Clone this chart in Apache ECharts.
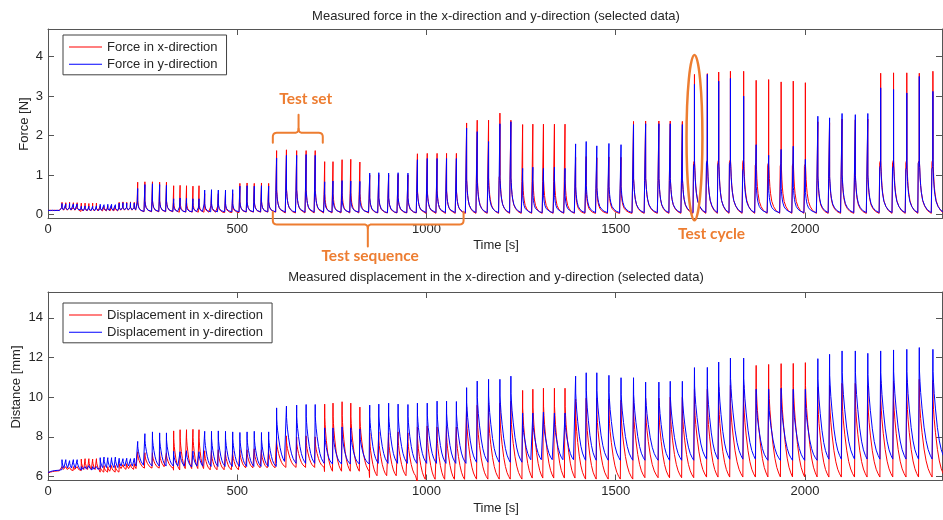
<!DOCTYPE html>
<html>
<head>
<meta charset="utf-8">
<script src="https://cdn.jsdelivr.net/npm/echarts@6/dist/echarts.min.js"></script>
<style>
  html, body { margin: 0; padding: 0; background: #fff; }
  #chart { width: 943px; height: 520px; }
</style>
</head>
<body>
<div id="chart"></div>
<script>
// ---- Measurement data -------------------------------------------------------
// Time [s] of every load peak (20 sets of 5 cycles).
const SPIKE_T = [
  37, 47, 57, 67, 77, 88, 98, 108, 118, 128, 138, 148, 158, 168, 178, 188, 198, 208, 218, 228,
  237, 256, 276, 295, 313, 332, 349, 366, 383, 399, 414, 432, 450, 469, 488, 507, 526, 545, 564, 583,
  604, 630, 657, 682, 706, 731, 753, 777, 800, 824, 850, 874, 900, 925, 951, 976, 1002, 1028, 1053, 1079,
  1106, 1134, 1164, 1194, 1223, 1254, 1281, 1309, 1338, 1366, 1394, 1422, 1450, 1482, 1514, 1547, 1579, 1614, 1644, 1676,
  1708, 1742, 1772, 1803, 1838, 1871, 1904, 1937, 1969, 2001, 2034, 2065, 2098, 2133, 2166, 2200, 2234, 2269, 2302, 2338
];

// Peak force [N] per cycle.
const FORCE_X_PEAK = [
  0.31, 0.30, 0.31, 0.30, 0.30, 0.29, 0.29, 0.28, 0.29, 0.29, 0.22, 0.21, 0.22, 0.22, 0.21, 0.31, 0.32, 0.31, 0.32, 0.31,
  0.82, 0.83, 0.83, 0.82, 0.82, 0.73, 0.74, 0.73, 0.72, 0.73, 0.53, 0.54, 0.53, 0.52, 0.53, 0.79, 0.80, 0.79, 0.80, 0.79,
  1.62, 1.64, 1.62, 1.62, 1.62, 1.34, 1.34, 1.39, 1.40, 1.33, 1.00, 1.01, 1.00, 1.02, 1.00, 1.54, 1.55, 1.55, 1.55, 1.55,
  2.32, 2.39, 2.39, 2.57, 2.39, 2.28, 2.29, 2.29, 2.29, 2.29, 1.45, 1.47, 1.44, 1.46, 1.45, 2.36, 2.37, 2.37, 2.37, 2.36,
  3.55, 3.57, 3.61, 3.63, 3.63, 3.40, 3.42, 3.36, 3.38, 3.34, 2.35, 2.33, 2.42, 2.40, 2.42, 3.58, 3.59, 3.59, 3.58, 3.63
];
const FORCE_Y_PEAK = [
  0.28, 0.27, 0.28, 0.27, 0.27, 0.21, 0.22, 0.21, 0.21, 0.22, 0.26, 0.25, 0.26, 0.26, 0.25, 0.29, 0.30, 0.29, 0.30, 0.29,
  0.66, 0.76, 0.78, 0.76, 0.74, 0.40, 0.42, 0.41, 0.40, 0.40, 0.62, 0.63, 0.62, 0.62, 0.63, 0.72, 0.73, 0.72, 0.73, 0.72,
  1.43, 1.50, 1.50, 1.52, 1.50, 0.83, 0.85, 0.86, 0.85, 0.84, 1.05, 1.06, 1.05, 1.06, 1.05, 1.39, 1.42, 1.42, 1.42, 1.42,
  2.19, 2.10, 1.85, 2.30, 2.35, 1.17, 1.20, 1.17, 1.20, 1.17, 1.79, 1.85, 1.74, 1.80, 1.77, 2.28, 2.30, 2.30, 2.30, 2.28,
  3.30, 3.55, 3.38, 3.45, 3.00, 1.77, 1.50, 1.65, 1.73, 1.40, 2.49, 2.45, 2.56, 2.53, 2.56, 3.21, 3.17, 3.08, 3.50, 3.12
];

// Peak displacement [mm] per cycle.
const DISP_X_PEAK = [
  6.50, 6.50, 6.45, 6.50, 6.50, 6.88, 6.90, 6.90, 6.88, 6.90, 6.55, 6.55, 6.50, 6.55, 6.55, 6.65, 6.60, 6.65, 6.60, 6.65,
  7.25, 7.20, 7.20, 7.25, 7.20, 8.30, 8.36, 8.36, 8.38, 8.36, 7.30, 7.30, 7.35, 7.30, 7.30, 7.35, 7.35, 7.40, 7.35, 7.35,
  8.00, 8.05, 8.00, 8.05, 8.00, 9.65, 9.70, 9.77, 9.70, 9.50, 8.20, 8.25, 8.20, 8.25, 8.20, 8.50, 8.55, 8.50, 8.55, 8.50,
  9.50, 9.60, 9.70, 9.70, 9.80, 10.34, 10.40, 10.45, 10.45, 10.45, 9.90, 9.95, 9.95, 9.90, 9.85, 10.00, 9.95, 9.95, 10.00, 10.00,
  10.40, 10.40, 10.50, 10.60, 10.60, 11.60, 11.65, 11.69, 11.70, 11.74, 10.50, 10.60, 10.70, 10.70, 10.60, 10.80, 10.80, 10.85, 10.90, 10.85
];
const DISP_Y_PEAK = [
  6.85, 6.85, 6.80, 6.85, 6.85, 6.50, 6.50, 6.55, 6.50, 6.50, 6.95, 6.98, 6.95, 6.95, 6.98, 6.92, 6.90, 6.92, 6.90, 6.92,
  7.77, 8.16, 8.25, 8.20, 8.20, 7.27, 7.25, 7.30, 7.28, 7.25, 8.28, 8.28, 8.30, 8.28, 8.25, 8.22, 8.25, 8.28, 8.22, 8.25,
  9.46, 9.55, 9.60, 9.63, 9.63, 8.45, 8.45, 8.50, 8.45, 8.40, 9.60, 9.65, 9.70, 9.65, 9.63, 9.70, 9.70, 9.80, 9.80, 9.78,
  10.48, 10.81, 10.90, 10.90, 11.06, 9.20, 9.20, 9.25, 9.20, 9.20, 11.06, 11.23, 11.23, 11.10, 10.98, 10.98, 10.76, 10.76, 10.80, 10.80,
  11.49, 11.50, 11.77, 11.97, 11.97, 10.40, 10.40, 10.45, 10.40, 10.40, 11.94, 12.16, 12.33, 12.33, 12.21, 12.33, 12.38, 12.41, 12.50, 12.41
];

// Resting level between cycles, one value per set.
const FORCE_X_LOW = [0.10, 0.08, 0.09, 0.10, 0.07, 0.06, 0.05, 0.06, 0.04, 0.04, 0.04, 0.03, 0.03, 0.03, 0.03, 0.03, 0.03, 0.03, 0.03, 0.03];
const FORCE_Y_LOW = [0.11, 0.10, 0.10, 0.11, 0.08, 0.07, 0.07, 0.07, 0.06, 0.06, 0.05, 0.05, 0.05, 0.05, 0.05, 0.05, 0.05, 0.05, 0.05, 0.05];
const DISP_X_LOW = [6.30, 6.30, 6.22, 6.35, 6.42, 6.32, 6.30, 6.40, 6.45, 6.25, 5.95, 5.75, 5.85, 5.90, 5.85, 5.92, 5.95, 5.95, 5.95, 5.95];
const DISP_Y_LOW = [6.35, 6.32, 6.40, 6.45, 6.52, 6.45, 6.50, 6.50, 6.65, 6.62, 6.65, 6.65, 6.70, 6.75, 6.80, 6.80, 6.85, 6.80, 6.85, 6.85];

// Settling phase before the first cycle.
const LEAD_T = [0, 6, 12, 18, 24, 30, 35];
const LEAD_FORCE_X = [0.10, 0.11, 0.10, 0.11, 0.10, 0.11, 0.10];
const LEAD_FORCE_Y = [0.11, 0.10, 0.11, 0.10, 0.11, 0.10, 0.11];
const LEAD_DISP_X = [6.17, 6.22, 6.25, 6.27, 6.28, 6.29, 6.30];
const LEAD_DISP_Y = [6.20, 6.25, 6.28, 6.30, 6.31, 6.32, 6.33];

// Course of one cycle: [offset as share of the cycle period, share of the way from rest to peak].
const FORCE_SHAPE = [
  [-0.08, 0], [-0.075, 0.36], [-0.005, 0.38], [0, 1], [0.005, 0.38], [0.03, 0.33], [0.06, 0.26],
  [0.10, 0.20], [0.15, 0.15], [0.25, 0.09], [0.40, 0.05], [0.60, 0.02], [0.88, 0]
];
const DISP_SHAPE = [
  [-0.02, 0], [0, 1], [0.01, 0.80], [0.05, 0.70], [0.10, 0.60], [0.20, 0.46], [0.35, 0.29],
  [0.50, 0.17], [0.65, 0.09], [0.80, 0.04], [0.94, 0.005]
];

const CYCLES_PER_SET = 5;
const LAST_PERIOD = 34;

const X_TICKS = [0, 500, 1000, 1500, 2000];
const FORCE_TICKS = [0, 1, 2, 3, 4];
const DISP_TICKS = [6, 8, 10, 12, 14];

const TITLE_FORCE = 'Measured force in the x-direction and y-direction (selected data)';
const TITLE_DISP = 'Measured displacement in the x-direction and y-direction (selected data)';
const NAMES = ['Force in x-direction', 'Force in y-direction', 'Displacement in x-direction', 'Displacement in y-direction'];

// ---- Build the traces ---------------------------------------------------------
function trace(leadV, peaks, lows, shape) {
  const pts = LEAD_T.map((t, i) => [t, leadV[i]]);
  SPIKE_T.forEach((t0, i) => {
    const next = i + 1 < SPIKE_T.length ? SPIKE_T[i + 1] : t0 + LAST_PERIOD;
    const period = next - t0;
    const low = lows[Math.floor(i / CYCLES_PER_SET)];
    const span = peaks[i] - low;
    shape.forEach(([f, k]) => pts.push([t0 + f * period, low + k * span]));
  });
  return pts;
}

const FONT = '"Liberation Sans", Arial, sans-serif';
const INK = '#262626';
const FRAME = '#555555';
const RED = '#ff0000';
const BLUE = '#0000ff';
const ORANGE = '#ED7D31';

const chart = echarts.init(document.getElementById('chart'));

function xAxis(gridIndex, position, labels) {
  return {
    type: 'value', gridIndex, position, min: 0, max: 2362,
    axisLine: { show: true, onZero: false, lineStyle: { color: FRAME, width: 1 } },
    axisTick: { show: true, inside: true, length: 6, customValues: X_TICKS, lineStyle: { color: FRAME } },
    axisLabel: {
      show: labels, customValues: X_TICKS, formatter: v => String(v), margin: 4,
      fontSize: 13, fontFamily: FONT, color: INK
    },
    splitLine: { show: false }
  };
}
function yAxis(gridIndex, position, labels, min, max, ticks) {
  return {
    type: 'value', gridIndex, position, min, max,
    axisLine: { show: true, onZero: false, lineStyle: { color: FRAME, width: 1 } },
    axisTick: { show: true, inside: true, length: 6, customValues: ticks, lineStyle: { color: FRAME } },
    axisLabel: {
      show: labels, customValues: ticks, formatter: v => String(v), margin: 5,
      fontSize: 13, fontFamily: FONT, color: INK
    },
    splitLine: { show: false }
  };
}
function line(name, xi, yi, color, data) {
  return {
    name, type: 'line', xAxisIndex: xi, yAxisIndex: yi, data,
    symbol: 'none', showSymbol: false, clip: true,
    lineStyle: { color, width: 1 }, itemStyle: { color },
    emphasis: { disabled: true }
  };
}
function legend(entries, top) {
  return {
    data: entries.map(([name, color]) => ({ name, itemStyle: { color } })),
    orient: 'vertical', left: 63, top,
    icon: 'rect', itemWidth: 33, itemHeight: 1, itemGap: 4.3,
    padding: [5.5, 9, 4, 6],
    borderColor: '#404040', borderWidth: 1, borderRadius: 0, backgroundColor: '#fff',
    selectedMode: false,
    textStyle: { fontSize: 13, fontFamily: FONT, color: INK }
  };
}

chart.setOption({
  animation: false,
  textStyle: { fontFamily: FONT },
  grid: [
    { left: 48, top: 29, width: 894, height: 189.5 },
    { left: 48, top: 292, width: 894, height: 188.5 }
  ],
  xAxis: [
    xAxis(0, 'bottom', true), xAxis(0, 'top', false),
    xAxis(1, 'bottom', true), xAxis(1, 'top', false)
  ],
  yAxis: [
    yAxis(0, 'left', true, -0.1, 4.7, FORCE_TICKS), yAxis(0, 'right', false, -0.1, 4.7, FORCE_TICKS),
    yAxis(1, 'left', true, 5.8, 15.3, DISP_TICKS), yAxis(1, 'right', false, 5.8, 15.3, DISP_TICKS)
  ],
  legend: [
    legend([[NAMES[0], RED], [NAMES[1], BLUE]], 35),
    legend([[NAMES[2], RED], [NAMES[3], BLUE]], 303)
  ],
  series: [
    line(NAMES[0], 0, 0, RED, trace(LEAD_FORCE_X, FORCE_X_PEAK, FORCE_X_LOW, FORCE_SHAPE)),
    line(NAMES[1], 0, 0, BLUE, trace(LEAD_FORCE_Y, FORCE_Y_PEAK, FORCE_Y_LOW, FORCE_SHAPE)),
    line(NAMES[2], 2, 2, RED, trace(LEAD_DISP_X, DISP_X_PEAK, DISP_X_LOW, DISP_SHAPE)),
    line(NAMES[3], 2, 2, BLUE, trace(LEAD_DISP_Y, DISP_Y_PEAK, DISP_Y_LOW, DISP_SHAPE))
  ]
});

// ---- Titles, axis names and the test annotations -----------------------------
const toPx = (t, v) => chart.convertToPixel({ xAxisIndex: 0, yAxisIndex: 0 }, [t, v]);

function text(str, x, y, size, opts) {
  return Object.assign({
    type: 'text', x, y, z: 100,
    style: {
      text: str, fontSize: size, fontFamily: FONT, fill: INK,
      align: 'center', verticalAlign: 'middle'
    }
  }, opts || {});
}
function quad(p0, c, p1, n) {
  const out = [];
  for (let k = 1; k <= n; k++) {
    const s = k / n;
    out.push([
      (1 - s) * (1 - s) * p0[0] + 2 * (1 - s) * s * c[0] + s * s * p1[0],
      (1 - s) * (1 - s) * p0[1] + 2 * (1 - s) * s * c[1] + s * s * p1[1]
    ]);
  }
  return out;
}
// Bracket between two times with a pointer at the middle time (values in N).
function bracket(tL, tC, tR, vEnd, vBar, vTip) {
  const [xL, yEnd] = toPx(tL, vEnd);
  const [xC, yBar] = toPx(tC, vBar);
  const [xR] = toPx(tR, vBar);
  const yTip = toPx(tC, vTip)[1];
  const r = 4;
  const d = Math.sign(yEnd - yBar);
  const left = [[xL, yEnd], [xL, yBar + d * r]]
    .concat(quad([xL, yBar + d * r], [xL, yBar], [xL + r, yBar], 5))
    .concat([[xC - r, yBar]])
    .concat(quad([xC - r, yBar], [xC, yBar], [xC, yBar - d * r], 5))
    .concat([[xC, yTip]]);
  const right = [[xR, yEnd], [xR, yBar + d * r]]
    .concat(quad([xR, yBar + d * r], [xR, yBar], [xR - r, yBar], 5))
    .concat([[xC + r, yBar]])
    .concat(quad([xC + r, yBar], [xC, yBar], [xC, yBar - d * r], 5));
  const style = { stroke: ORANGE, lineWidth: 2, fill: null, lineJoin: 'round', lineCap: 'round' };
  return [
    { type: 'polyline', z: 100, shape: { points: left }, style },
    { type: 'polyline', z: 100, shape: { points: right }, style }
  ];
}

const NOTE_FONT = 'Lato, "Open Sans", sans-serif';
const note = (str, t, v) => {
  const [x, y] = toPx(t, v);
  return {
    type: 'text', x, y, z: 100,
    style: {
      text: str, fontSize: 15.5, fontWeight: 'bold', fontFamily: NOTE_FONT, fill: ORANGE,
      align: 'center', verticalAlign: 'middle'
    }
  };
};

const cycleA = toPx(1687, 4.04);
const cycleB = toPx(1729, -0.145);

chart.setOption({
  graphic: [
    text(TITLE_FORCE, 496, 16, 13),
    text(TITLE_DISP, 496, 277, 13),
    text('Time [s]', 496, 245, 13),
    text('Time [s]', 496, 508, 13),
    text('Force [N]', 24, 124, 13, { rotation: Math.PI / 2 }),
    text('Distance [mm]', 16.5, 387, 13, { rotation: Math.PI / 2 }),
    ...bracket(594, 662, 726, 1.82, 2.07, 2.53),
    ...bracket(594, 845, 1098, 0.07, -0.25, -0.81),
    {
      type: 'ellipse', z: 100,
      shape: {
        cx: (cycleA[0] + cycleB[0]) / 2, cy: (cycleA[1] + cycleB[1]) / 2,
        rx: (cycleB[0] - cycleA[0]) / 2, ry: (cycleB[1] - cycleA[1]) / 2
      },
      style: { stroke: ORANGE, lineWidth: 2.5, fill: null }
    },
    note('Test set', 681, 2.93),
    note('Test sequence', 851, -1.05),
    note('Test cycle', 1753, -0.49)
  ]
});
</script>
</body>
</html>
